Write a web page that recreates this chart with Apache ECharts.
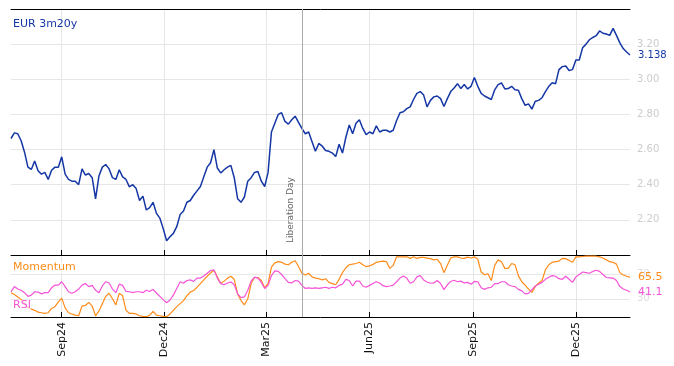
<!DOCTYPE html>
<html>
<head>
<meta charset="utf-8">
<script src="https://cdn.jsdelivr.net/npm/echarts@6/dist/echarts.min.js"></script>
<style>
html,body{margin:0;padding:0;background:#fff;}
#chart{width:674px;height:366px;}
</style>
</head>
<body>
<div id="chart"></div>
<script>
// ---- data ----
const startDate = '2024-07-18';
const stepDays = 3;
const axisMin = '2024-07-18';
const axisMax = '2026-01-18';

const rate = [
2.663,2.695,2.69,2.65,2.585,2.50,2.487,2.535,2.48,2.46,
2.47,2.43,2.482,2.50,2.50,2.559,2.46,2.43,2.42,2.42,
2.40,2.49,2.455,2.464,2.44,2.32,2.45,2.50,2.515,2.49,
2.44,2.43,2.485,2.445,2.43,2.388,2.40,2.378,2.31,2.335,
2.256,2.27,2.30,2.237,2.21,2.15,2.081,2.104,2.123,2.161,
2.23,2.25,2.30,2.31,2.34,2.365,2.39,2.445,2.50,2.525,
2.60,2.495,2.467,2.485,2.50,2.51,2.44,2.32,2.30,2.33,
2.42,2.44,2.47,2.475,2.42,2.39,2.47,2.70,2.75,2.80,
2.81,2.76,2.745,2.77,2.79,2.755,2.72,2.69,2.70,2.645,
2.59,2.635,2.62,2.595,2.59,2.58,2.56,2.63,2.58,2.67,
2.74,2.69,2.75,2.77,2.72,2.685,2.70,2.69,2.735,2.70,
2.71,2.71,2.70,2.71,2.765,2.81,2.815,2.833,2.843,2.885,
2.92,2.93,2.91,2.843,2.88,2.90,2.905,2.89,2.845,2.89,
2.93,2.95,2.975,2.947,2.97,2.945,2.96,3.01,2.96,2.92,
2.905,2.895,2.885,2.94,2.97,2.979,2.945,2.947,2.96,2.94,
2.9375,2.89,2.852,2.86,2.83,2.875,2.88,2.895,2.93,2.96,
2.98,2.975,3.055,3.072,3.076,3.05,3.055,3.11,3.11,3.18,
3.20,3.225,3.238,3.248,3.275,3.262,3.258,3.25,3.29,3.25,
3.207,3.175,3.155,3.138
];

const momentum = [
40,37,33,29,22,16,13,11,8,7,
6,7,14,17,25,31,15,7,5,3,
2,18,19,24,18,2,10,22,34,39,
30,20,39,35,11,6,6,5,2,1,
0.5,3,9,3,2,1,0.5,5,11,17,
22,27,35,41,43.5,49,55,61,67,72.5,
77,66,55,59,64,67,62,38,27,20,
30,55,65,65,60,48,55,82,89,91,
90,87,86,90,92.5,83,72,69,72,66,
64,63,61,63,57,55,53,62,73,81,
86,87,88,90,86,83,84,86.5,90,91,
92,91,80,85,99,99,99,99,96.5,99,
96.5,98,98,97,96,94,95,88,73,85,
97,99,99,97,96.5,98.5,97,99,95,74,
69.5,71,60,85,94,91,80,80,88,86,
68,58,52.5,46,40.5,50,56,60,78,86,
90,91,92,96.5,96,93,90,99,99,99.5,
100,100,100,100,99,97,94,91,90,87,
73,69,67,65.5
];

const rsi = [
41.5,50,46,44,40,34,36,41.5,41,38,
40,40,48,52.5,52.5,58,50,41.5,39,41.5,
46,52.5,55,50,52,44,40,51,58,56,
46,40,54,52,42,41.5,40,41.5,41.5,40,
44,42,45.5,39.5,34,28.5,23.5,28,36,47,
58,55.5,60,61,58.5,64,64,67.5,72,76.5,
77.5,64,55,53,56,57.5,53,38,32,33,
44,59,65.5,64,57,47,52,68,76,75,
70,63,57,56,60,59,52,47,48,47,
48,47,48,49,47,49,48,52,54,62,
60,51,59,59,51,49,52,55,58,56,
51.5,50,51,52.5,58,64,67.5,64,55.5,58,
66,68,61,57.5,55.5,56,60,55,45,53,
58.5,60.5,58,59,56,57,54,58.5,58,48,
45.5,48,49,55,55,58,58,53,51,50,
45.5,43,38,39,45,51,54,57,62,65.5,
68,67,63,62,67,62,57,66,70,74,
73,72,75,77,75,70,65,64.5,64,60,
50,46,44,41.1
];

const tickDates = ['2024-09-01','2024-12-01','2025-03-01','2025-06-01','2025-09-01','2025-12-01'];
const tickLabels = ['Sep24','Dec24','Mar25','Jun25','Sep25','Dec25'];
const indTicks = [30, 70];
const eventDate = '2025-04-02';
const eventLabel = 'Liberation Day';
const rateName = 'EUR 3m20y';
const momName = 'Momentum';
const rsiName = 'RSI';

// ---- build ----
const DAY = 86400000;
const ts = s => Date.parse(s + 'T00:00:00Z');
const t0 = ts(startDate);
const toPairs = arr => arr.map((v, i) => [t0 + i * stepDays * DAY, v]);
const tickTs = tickDates.map(ts);
const labelMap = {};
tickTs.forEach((t, i) => labelMap[t] = tickLabels[i]);

const FONT = 'DejaVu Sans';
const BLUE = '#1537a6';
const ORANGE = '#ff8c1a';
const PINK = '#f553d8';

const chart = echarts.init(document.getElementById('chart'), null, {renderer: 'canvas'});

const xBase = (grid) => ({
  type: 'value',
  gridIndex: grid,
  min: ts(axisMin),
  max: ts(axisMax),
  axisLine: {show: true, onZero: false, lineStyle: {color: '#000', width: 1}},
  axisTick: {show: true, inside: true, length: 5, customValues: tickTs, lineStyle: {color: '#000'}},
  splitLine: {show: true, lineStyle: {color: '#e6e6e6', width: 1}},
  axisPointer: {show: false}
});

const option = {
  animation: false,
  textStyle: {fontFamily: FONT},
  grid: [
    {left: 11, right: 44, top: 9, height: 246},
    {left: 11, right: 44, top: 255, height: 62}
  ],
  xAxis: [
    Object.assign(xBase(0), {axisLabel: {show: false, customValues: tickTs}}),
    Object.assign(xBase(1), {
      axisLabel: {
        show: true, customValues: tickTs, rotate: 90, margin: 5,
        fontSize: 11, color: '#111', fontFamily: FONT,
        formatter: v => labelMap[v] || ''
      }
    }),
    {
      type: 'value', gridIndex: 0, position: 'top', min: 0, max: 1,
      axisLine: {show: true, onZero: false, lineStyle: {color: '#000', width: 1}},
      axisTick: {show: false}, axisLabel: {show: false}, splitLine: {show: false}
    }
  ],
  yAxis: [
    {
      type: 'value', gridIndex: 0, position: 'right',
      min: 2.0, max: 3.4, interval: 0.2,
      axisLine: {show: false}, axisTick: {show: false},
      axisLabel: {
        show: true, showMinLabel: false, showMaxLabel: false, color: '#cccccc', fontSize: 10, margin: 7, fontFamily: FONT,
        formatter: v => v.toFixed(2)
      },
      splitLine: {show: true, lineStyle: {color: '#e6e6e6'}}
    },
    {
      type: 'value', gridIndex: 1, position: 'right',
      min: 0, max: 102,
      axisLine: {show: false},
      axisTick: {show: false, customValues: indTicks},
      axisLabel: {show: true, customValues: indTicks, color: '#dddddd', fontSize: 10, margin: 7, fontFamily: FONT},
      splitLine: {show: true, lineStyle: {color: '#e6e6e6'}}
    }
  ],
  series: [
    {
      name: rateName, type: 'line', xAxisIndex: 0, yAxisIndex: 0,
      data: toPairs(rate), showSymbol: false, symbol: 'none',
      lineStyle: {color: BLUE, width: 1.5}, itemStyle: {color: BLUE},
      endLabel: {show: true, formatter: p => p.value[1].toFixed(3), color: BLUE, fontSize: 10, distance: 8, fontFamily: FONT},
      markLine: {
        silent: true, symbol: 'none',
        lineStyle: {color: '#aaaaaa', type: 'solid', width: 1},
        label: {show: true, formatter: eventLabel, position: 'insideStartTop', color: '#666', fontSize: 9, fontFamily: FONT, distance: [12, 7]},
        data: [{xAxis: ts(eventDate)}]
      },
      z: 3
    },
    {
      name: momName, type: 'line', xAxisIndex: 1, yAxisIndex: 1,
      data: toPairs(momentum), showSymbol: false, symbol: 'none',
      lineStyle: {color: ORANGE, width: 1.2}, itemStyle: {color: ORANGE},
      endLabel: {show: true, formatter: p => p.value[1].toFixed(1), color: ORANGE, fontSize: 11, distance: 8, fontFamily: FONT},
      markLine: {
        silent: true, symbol: 'none',
        lineStyle: {color: '#aaaaaa', type: 'solid', width: 1},
        label: {show: false},
        data: [{xAxis: ts(eventDate)}]
      }
    },
    {
      name: rsiName, type: 'line', xAxisIndex: 1, yAxisIndex: 1,
      data: toPairs(rsi), showSymbol: false, symbol: 'none',
      lineStyle: {color: PINK, width: 1.2}, itemStyle: {color: PINK},
      endLabel: {show: true, formatter: p => p.value[1].toFixed(1), color: PINK, fontSize: 11, distance: 8, fontFamily: FONT}
    }
  ],
  graphic: [
    {type: 'text', left: 13, top: 19, z: 100, style: {text: rateName, fill: BLUE, font: '11px "DejaVu Sans"'}},
    {type: 'text', left: 13, top: 262, z: 100, style: {text: momName, fill: ORANGE, font: '11px "DejaVu Sans"', backgroundColor: 'rgba(255,255,255,0.7)'}},
    {type: 'text', left: 13, top: 300, z: 100, style: {text: rsiName, fill: PINK, font: '11px "DejaVu Sans"', backgroundColor: 'rgba(255,255,255,0.7)'}}
  ]
};
chart.setOption(option);
</script>
</body>
</html>
